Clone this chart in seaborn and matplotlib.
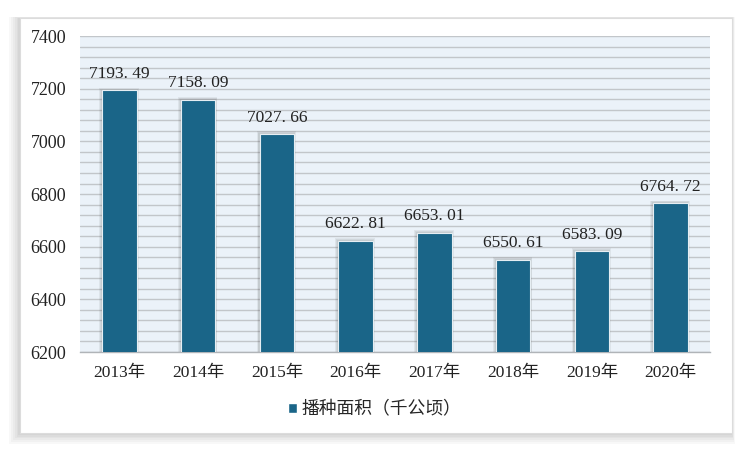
import matplotlib.pyplot as plt
import matplotlib.patches as mpatches
import seaborn as sns
import pandas as pd
import numpy as np

years = ['2013年', '2014年', '2015年', '2016年', '2017年', '2018年', '2019年', '2020年']
area = [7193.49, 7158.09, 7027.66, 6622.81, 6653.01, 6550.61, 6583.09, 6764.72]
series_name = '播种面积（千公顷）'

df = pd.DataFrame({'year': years, 'area': area})

sns.set_style('white')
plt.rcParams['font.family'] = ['Liberation Serif', 'Noto Sans CJK SC', 'DejaVu Sans']

bar_color = '#1a6588'

fig = plt.figure(figsize=(7.5, 4.51), dpi=100)

# outer card with soft shadow (mostly left / bottom)
for k in range(6):
    d = (6 - k) * 0.002
    fig.patches.append(mpatches.Rectangle((0.027 - d * 1.2, 0.04 - d * 2.0), 0.949 + d * 1.5, 0.92 + d * 2.2,
                                          transform=fig.transFigure, facecolor='black', alpha=0.028,
                                          edgecolor='none', zorder=0))
fig.patches.append(mpatches.Rectangle((0.027, 0.04), 0.949, 0.92, transform=fig.transFigure,
                                      facecolor='white', edgecolor='#dcdcdc', lw=0.8, zorder=1))

ax = fig.add_axes([0.1067, 0.2195, 0.84, 0.7005])
ax.set_facecolor('#ebf2f9')
ax.set_zorder(2)

sns.barplot(data=df, x='year', y='area', color=bar_color, saturation=1, width=0.44, ax=ax,
            edgecolor='#e6eef3', linewidth=0.8, zorder=3)

# soft shadow around bars
bars = list(ax.patches)
for p in bars:
    for k in range(3):
        dx = (3 - k) * 0.01
        dy = (3 - k) * 3.5
        sh = mpatches.Rectangle((p.get_x() - dx - 0.006, 6200), p.get_width() + 2 * dx,
                                p.get_y() + p.get_height() - 6200 + dy,
                                facecolor='#303030', alpha=0.07, edgecolor='none', zorder=2.5)
        ax.add_patch(sh)

for i, v in enumerate(area):
    ax.text(i, v + 32, f'{v:.2f}'.replace('.', '. '), ha='center', va='bottom', fontsize=12.5,
            color='#222222', zorder=4)

ax.set_ylim(6200, 7400)
ax.set_yticks(np.arange(6200, 7401, 200))
ax.set_yticks(np.arange(6200, 7401, 40), minor=True)
ax.grid(axis='y', which='both', color='#c2c6ca', lw=1.0, zorder=1)
ax.set_axisbelow(True)
ax.tick_params(axis='y', which='both', length=0, labelsize=13, pad=10, labelcolor='#222222')
ax.tick_params(axis='x', length=0, labelsize=12.5, pad=9, labelcolor='#222222')
ax.set_xlabel('')
ax.set_ylabel('')
for s in ['top', 'right', 'left']:
    ax.spines[s].set_visible(False)
ax.spines['bottom'].set_color('#b0b4b8')
ax.spines['bottom'].set_linewidth(1.0)

handles = [mpatches.Rectangle((0, 0), 1, 1, facecolor=bar_color)]
fig.legend(handles, [series_name], loc='center', bbox_to_anchor=(0.5, 0.093), frameon=False,
           handlelength=0.5, handleheight=0.5, handletextpad=0.25,
           prop={'family': ['Noto Sans CJK SC'], 'size': 12.8})

fig.savefig('out.png', dpi=100)
